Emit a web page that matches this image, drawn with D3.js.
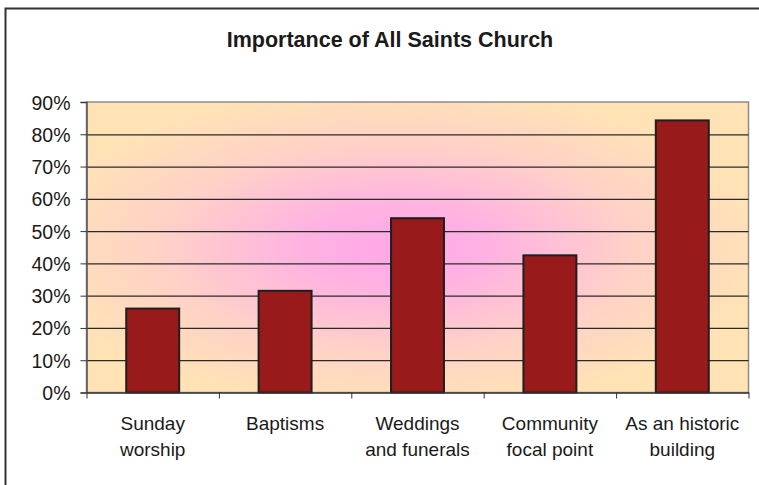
<!DOCTYPE html>
<html>
<head>
<meta charset="utf-8">
<script src="https://cdn.jsdelivr.net/npm/d3@7"></script>
<style>
  html, body { margin: 0; background: #fff; overflow: hidden; }
  text { font-family: "Liberation Sans", Arial, sans-serif; fill: #1a1a1a; }
</style>
</head>
<body>
<div id="vis"></div>
<script>
// chart data
let categories = [
  ['Sunday', 'worship'],
  ['Baptisms'],
  ['Weddings', 'and funerals'],
  ['Community', 'focal point'],
  ['As an historic', 'building'],
];
let values = [0.26, 0.315, 0.54, 0.425, 0.843];
let yTicks = [0, 0.1, 0.2, 0.3, 0.4, 0.5, 0.6, 0.7, 0.8, 0.9];
let title = 'Importance of All Saints Church';

let W = 759,
  H = 485;
let plot = { left: 86.5, right: 748.5, top: 102, bottom: 392.5 };

let svg = d3
  .select('#vis')
  .append('svg')
  .attr('width', W)
  .attr('height', H)
  .style('display', 'block');

// background gradient for the plot area
let defs = svg.append('defs');
let grad = defs
  .append('radialGradient')
  .attr('id', 'bg')
  .attr('cx', '0.47')
  .attr('cy', '0.5')
  .attr('r', '0.56');
grad.append('stop').attr('offset', '0%').attr('stop-color', '#ffa8e8');
grad.append('stop').attr('offset', '25%').attr('stop-color', '#ffb2e2');
grad.append('stop').attr('offset', '65%').attr('stop-color', '#ffd2c6');
grad.append('stop').attr('offset', '100%').attr('stop-color', '#ffe3b5');

// outer chart border (runs off the right / bottom of the picture)
svg
  .append('path')
  .attr('d', `M5.5,${H}V8.5H${W}`)
  .attr('fill', 'none')
  .attr('stroke', '#333')
  .attr('stroke-width', 2);

let x = d3
  .scaleBand()
  .domain(d3.range(categories.length))
  .range([plot.left, plot.right])
  .paddingInner(0.6)
  .paddingOuter(0.3);

let xEdges = d3
  .scaleLinear()
  .domain([0, categories.length])
  .range([plot.left, plot.right]);

let y = d3.scaleLinear().domain([0, 0.9]).range([plot.bottom, plot.top]);

// plot area
svg
  .append('rect')
  .attr('x', plot.left)
  .attr('y', plot.top)
  .attr('width', plot.right - plot.left)
  .attr('height', plot.bottom - plot.top)
  .attr('fill', 'url(#bg)')
  .attr('stroke', '#8c8c8c')
  .attr('stroke-width', 1.5);

// gridlines
svg
  .append('g')
  .attr('transform', `translate(${plot.left},0)`)
  .call(
    d3
      .axisLeft(y)
      .tickValues(yTicks.filter((d) => d > 0 && d < 0.9))
      .tickSize(-(plot.right - plot.left))
      .tickFormat('')
  )
  .call((g) => g.select('.domain').remove())
  .call((g) => g.selectAll('line').attr('stroke', '#2a2a2a').attr('stroke-width', 1.2));

// bars
svg
  .append('g')
  .selectAll('rect')
  .data(values)
  .join('rect')
  .attr('x', (d, i) => x(i))
  .attr('y', (d) => y(d))
  .attr('width', x.bandwidth())
  .attr('height', (d) => y(0) - y(d))
  .attr('fill', '#991a1a')
  .attr('stroke', '#1f1f1f')
  .attr('stroke-width', 2);

// y axis
let yAxis = svg
  .append('g')
  .attr('transform', `translate(${plot.left},0)`)
  .call(
    d3
      .axisLeft(y)
      .tickValues(yTicks)
      .tickSize(6)
      .tickPadding(10)
      .tickFormat(d3.format('.0%'))
  );
yAxis.select('.domain').attr('stroke', '#555').attr('stroke-width', 1.5);
yAxis.selectAll('line').attr('stroke', '#333');
yAxis
  .selectAll('text')
  .style('font-size', '19.5px')
  .attr('fill', '#2a2a2a')
  .attr('dy', '0.36em');

// x axis (ticks at category edges)
let xAxis = svg
  .append('g')
  .attr('transform', `translate(0,${plot.bottom})`)
  .call(
    d3
      .axisBottom(xEdges)
      .tickValues(d3.range(categories.length + 1))
      .tickSize(6)
      .tickSizeOuter(0)
      .tickFormat('')
  );
xAxis.select('.domain').attr('stroke', '#333').attr('stroke-width', 1.5);
xAxis.selectAll('line').attr('stroke', '#333');

// category labels
let labels = svg
  .append('g')
  .selectAll('text')
  .data(categories)
  .join('text')
  .attr('x', (d, i) => x(i) + x.bandwidth() / 2)
  .attr('y', 430)
  .attr('text-anchor', 'middle')
  .style('font-size', '19px');
labels
  .selectAll('tspan')
  .data((d) => d)
  .join('tspan')
  .attr('x', function () {
    return d3.select(this.parentNode).attr('x');
  })
  .attr('dy', (d, i) => (i === 0 ? 0 : 26))
  .text((d) => d);

// title
svg
  .append('text')
  .attr('x', 390)
  .attr('y', 47)
  .attr('text-anchor', 'middle')
  .style('font-size', '21.5px')
  .style('font-weight', 'bold')
  .text(title);
</script>
</body>
</html>
